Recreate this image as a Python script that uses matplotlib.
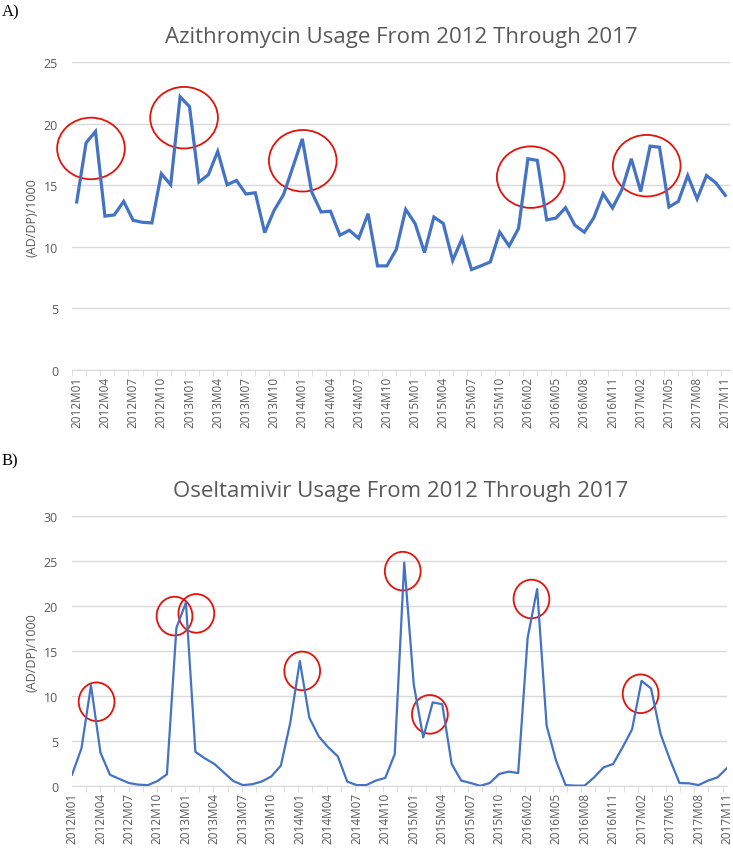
import matplotlib.pyplot as plt
from matplotlib.patches import Ellipse

# month labels, 2012M01 - 2017M11 (no 2016M01 in the data)
months = ['%dM%02d' % (y, m) for y in range(2012, 2018) for m in range(1, 13)]
months = [m for m in months if m not in ('2016M01', '2017M12')]

azithro = [13.65, 18.46, 19.38, 12.5, 12.6, 13.7, 12.16, 12.0, 11.95, 15.95,
           15.05, 22.2, 21.4, 15.27, 15.86, 17.76, 15.05, 15.4, 14.3, 14.4,
           11.16, 12.97, 14.24, 16.5, 18.78, 14.46, 12.84, 12.9, 10.95, 11.35,
           10.7, 12.7, 8.46, 8.46, 9.8, 13.05, 11.9, 9.54, 12.43, 11.9,
           8.9, 10.68, 8.16, 8.46, 8.78, 11.2, 10.08, 11.49, 17.16, 17.03,
           12.2, 12.35, 13.19, 11.76, 11.2, 12.35, 14.32, 13.16, 14.65, 17.16,
           14.5, 18.19, 18.1, 13.24, 13.7, 15.8, 13.9, 15.8, 15.2, 14.19]

oselta = [1.25, 4.2, 11.2, 3.7, 1.25, 0.78, 0.33, 0.15, 0.1, 0.55,
          1.3, 17.6, 20.4, 3.8, 3.07, 2.45, 1.5, 0.55, 0.1, 0.2,
          0.5, 1.07, 2.26, 7.07, 13.9, 7.6, 5.5, 4.3, 3.3, 0.48,
          0.1, 0.1, 0.6, 0.9, 3.55, 24.85, 11.3, 5.4, 9.3, 9.1,
          2.44, 0.6, 0.33, 0.02, 0.33, 1.33, 1.6, 1.44, 16.5, 21.9,
          6.7, 2.8, 0.1, 0.04, 0.04, 0.96, 2.07, 2.44, 4.3, 6.3,
          11.7, 10.85, 5.8, 2.9, 0.33, 0.3, 0.1, 0.6, 0.96, 2.0]

# red circles drawn around the peaks (month index, value)
circles_a = [(1.52, 18.0), (11.42, 20.5), (24.05, 17.0), (48.3, 15.67), (60.64, 16.6)]
circles_b = [(2.59, 9.37), (10.8, 18.9), (13.1, 19.2), (24.25, 12.8),
             (34.84, 23.9), (37.7, 7.97), (48.4, 20.8), (59.9, 10.26)]

blue = '#4472C4'
gray = '#595959'
grid = '#D9D9D9'
red = '#E3120B'
n = len(months)
x = list(range(n))

fig = plt.figure(figsize=(7.33, 8.53), dpi=100)


def style(ax, ymax, step):
    ax.set_ylim(0, ymax)
    ax.set_yticks(range(0, ymax + 1, step))
    ax.yaxis.grid(True, color=grid, lw=1)
    ax.set_axisbelow(True)
    for s in ['top', 'right', 'left']:
        ax.spines[s].set_visible(False)
    ax.spines['bottom'].set_color(grid)
    ax.spines['bottom'].set_zorder(0)
    ax.set_xticks(x[::3])
    ax.set_xticklabels(months[::3], rotation=90, fontsize=8.5, color=gray,
                       family='Open Sans')
    ax.tick_params(axis='x', which='major', length=0, pad=4)
    ax.tick_params(axis='x', which='minor', length=4, color=grid)
    ax.tick_params(axis='y', length=0, labelsize=9, labelcolor=gray, pad=10)
    for t in ax.get_yticklabels():
        t.set_family('Open Sans')
    ax.set_ylabel('(AD/DP)/1000', fontsize=9, color=gray, family='Open Sans',
                  labelpad=4)


# A) azithromycin: points between tick marks
ax1 = fig.add_axes([72 / 733, 1 - 371 / 853, 658 / 733, 307.7 / 853])
ax1.plot(x, azithro, color=blue, lw=2.3, solid_joinstyle='miter')
ax1.set_xlim(-0.5, n - 0.5)
style(ax1, 25, 5)
ax1.set_xticks([-0.5 + 1.5 * k for k in range(int(n / 1.5) + 1)], minor=True)
for cx, cy in circles_a:
    ax1.add_patch(Ellipse((cx, cy), 7.2, 5.0, fill=False, ec=red, lw=1.3,
                          clip_on=False))
fig.text(401 / 733, 1 - 38 / 853, 'Azithromycin Usage From 2012 Through 2017',
         ha='center', va='center', fontsize=16, color=gray, family='Open Sans')
fig.text(0.002, 1 - 12 / 853, 'A)', ha='left', va='center', fontsize=12,
         family='Liberation Serif')

# B) oseltamivir: points on tick marks
ax2 = fig.add_axes([72 / 733, 1 - 787 / 853, 655 / 733, 269.7 / 853])
ax2.plot(x, oselta, color=blue, lw=1.6)
ax2.set_xlim(0, n - 1)
style(ax2, 30, 5)
ax2.set_xticks([1.49 * k for k in range(int((n - 1) / 1.49) + 1)], minor=True)
for cx, cy in circles_b:
    ax2.add_patch(Ellipse((cx, cy), 3.77, 4.3, fill=False, ec=red, lw=1.3,
                          clip_on=False))
fig.text(401 / 733, 1 - 492 / 853, 'Oseltamivir Usage From 2012 Through 2017',
         ha='center', va='center', fontsize=16, color=gray, family='Open Sans')
fig.text(0.002, 1 - 461 / 853, 'B)', ha='left', va='center', fontsize=12,
         family='Liberation Serif')

fig.savefig('out.png', dpi=100)
